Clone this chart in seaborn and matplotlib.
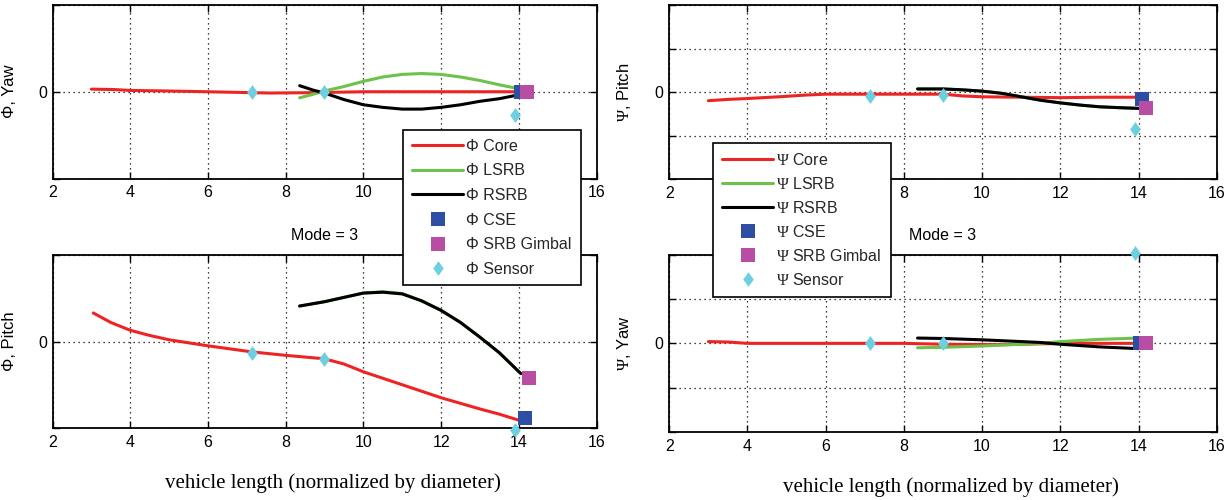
import matplotlib
matplotlib.use("Agg")
import matplotlib.pyplot as plt
import numpy as np
import pandas as pd
import seaborn as sns
from matplotlib.lines import Line2D

# ---------------- data ----------------
# Phi, Yaw
phi_yaw_core_x = [3.0, 3.6, 4.0, 4.8, 6.0, 7.6, 8.8, 10.0, 12.0, 14.0]
phi_yaw_core_y = [0.03, 0.025, 0.015, 0.01, 0.0, -0.015, -0.01, 0.0, 0.0, 0.0]
phi_yaw_lsrb_x = [8.36, 8.7, 9.0, 9.5, 10.0, 10.5, 11.0, 11.5, 12.0, 12.5, 13.0, 13.5, 14.0]
phi_yaw_lsrb_y = [-0.07, -0.03, 0.01, 0.06, 0.12, 0.17, 0.2, 0.21, 0.2, 0.17, 0.13, 0.08, 0.035]
phi_yaw_rsrb_x = [8.36, 8.7, 9.0, 9.5, 10.0, 10.5, 11.0, 11.5, 12.0, 12.5, 13.0, 13.5, 14.0]
phi_yaw_rsrb_y = [0.07, 0.02, -0.015, -0.09, -0.15, -0.18, -0.2, -0.2, -0.18, -0.15, -0.11, -0.08, -0.035]
phi_yaw_cse = (14.05, 0.0)
phi_yaw_gimbal = (14.2, 0.0)
phi_yaw_sensor_x = [7.13, 9.0, 13.9]
phi_yaw_sensor_y = [0.0, 0.0, -0.27]

# Phi, Pitch
phi_pitch_core_x = [3.05, 3.5, 4.0, 4.5, 5.0, 6.0, 7.13, 8.0, 9.0, 9.5, 10.0, 11.0, 12.0, 13.0, 13.5, 14.0]
phi_pitch_core_y = [0.33, 0.22, 0.13, 0.07, 0.02, -0.05, -0.12, -0.16, -0.2, -0.26, -0.35, -0.5, -0.65, -0.78, -0.84, -0.91]
phi_pitch_lsrb_x = [8.36, 9.0, 9.5, 10.0, 10.5, 11.0, 11.5, 12.0, 12.5, 13.0, 13.5, 14.05]
phi_pitch_lsrb_y = [0.41, 0.46, 0.51, 0.56, 0.575, 0.555, 0.47, 0.36, 0.22, 0.05, -0.13, -0.37]
phi_pitch_rsrb_x = [8.36, 9.0, 9.5, 10.0, 10.5, 11.0, 11.5, 12.0, 12.5, 13.0, 13.5, 14.05]
phi_pitch_rsrb_y = [0.41, 0.46, 0.51, 0.56, 0.57, 0.55, 0.47, 0.36, 0.22, 0.05, -0.13, -0.37]
phi_pitch_cse = (14.15, -0.89)
phi_pitch_gimbal = (14.25, -0.42)
phi_pitch_sensor_x = [7.13, 9.0, 13.9]
phi_pitch_sensor_y = [-0.13, -0.2, -1.02]

# Psi, Pitch
psi_pitch_core_x = [3.0, 3.5, 4.0, 4.8, 5.5, 6.0, 8.0, 9.0, 9.5, 10.0, 11.0, 12.0, 13.0, 14.0]
psi_pitch_core_y = [-0.2, -0.17, -0.15, -0.11, -0.07, -0.05, -0.05, -0.05, -0.09, -0.11, -0.12, -0.13, -0.12, -0.12]
psi_pitch_lsrb_x = [8.35, 9.0, 9.5, 10.0, 10.5, 11.0, 11.5, 12.0, 12.5, 13.0, 13.5, 14.1]
psi_pitch_lsrb_y = [0.07, 0.07, 0.05, 0.02, -0.03, -0.11, -0.19, -0.25, -0.3, -0.34, -0.36, -0.38]
psi_pitch_rsrb_x = [8.35, 9.0, 9.5, 10.0, 10.5, 11.0, 11.5, 12.0, 12.5, 13.0, 13.5, 14.1]
psi_pitch_rsrb_y = [0.07, 0.07, 0.05, 0.02, -0.03, -0.11, -0.19, -0.25, -0.3, -0.34, -0.36, -0.38]
psi_pitch_cse = (14.1, -0.15)
psi_pitch_gimbal = (14.2, -0.37)
psi_pitch_sensor_x = [7.13, 9.0, 13.9]
psi_pitch_sensor_y = [-0.09, -0.08, -0.84]

# Psi, Yaw
psi_yaw_core_x = [3.0, 3.5, 4.0, 8.0, 9.0, 10.5, 11.5, 12.5, 14.0]
psi_yaw_core_y = [0.04, 0.03, 0.0, 0.0, -0.02, -0.03, -0.01, 0.0, 0.0]
psi_yaw_lsrb_x = [8.35, 9.0, 10.0, 11.0, 11.5, 12.0, 13.0, 14.0]
psi_yaw_lsrb_y = [-0.1, -0.09, -0.06, -0.02, 0.0, 0.04, 0.09, 0.12]
psi_yaw_rsrb_x = [8.35, 9.0, 10.0, 11.0, 11.5, 12.0, 13.0, 14.0]
psi_yaw_rsrb_y = [0.12, 0.11, 0.08, 0.04, 0.02, -0.02, -0.08, -0.12]
psi_yaw_cse = (14.05, 0.0)
psi_yaw_gimbal = (14.2, 0.0)
psi_yaw_sensor_x = [7.13, 9.0, 13.9]
psi_yaw_sensor_y = [0.0, 0.0, 2.05]

series_names = ["Core", "LSRB", "RSRB"]
x_ticks = [2, 4, 6, 8, 10, 12, 14, 16]

# ---------------- style ----------------
sns.set_theme(style="ticks")
plt.rcParams["font.family"] = ["Liberation Sans", "DejaVu Sans"]
plt.rcParams["axes.linewidth"] = 1.3
# serif Greek letter for the Psi symbol
plt.rcParams["mathtext.fontset"] = "custom"
plt.rcParams["mathtext.rm"] = "Liberation Serif"
plt.rcParams["mathtext.it"] = "Liberation Serif"
plt.rcParams["mathtext.bf"] = "Liberation Serif:bold"

PHI = "\u03a6"
PSI = r"$\mathrm{\Psi}$"

RED = "#ee2424"
GREEN = "#6cc24a"
BLACK = "#000000"
BLUE = "#2e4ea3"
MAGENTA = "#b84ea3"
CYAN = "#6dcfe0"
palette = {"Core": RED, "LSRB": GREEN, "RSRB": BLACK}

diamond = [(0, -1), (0.72, 0), (0, 1), (-0.72, 0), (0, -1)]

W, H = 1229, 500
fig = plt.figure(figsize=(W / 100, H / 100), dpi=100)
fig.patch.set_facecolor("white")


def px_axes(left, top, right, bottom):
    return fig.add_axes([left / W, 1 - bottom / H, (right - left) / W, (bottom - top) / H])


def draw_panel(ax, lines, cse, gimbal, sx, sy, ylim, yticks, ylabel, title=None, xlabel=None):
    frames = []
    for name, (xs, ys) in zip(series_names, lines):
        frames.append(pd.DataFrame({"x": xs, "y": ys, "series": name}))
    df = pd.concat(frames, ignore_index=True)
    sns.lineplot(data=df, x="x", y="y", hue="series", palette=palette,
                 estimator=None, sort=False, units="series", legend=False,
                 linewidth=2.2, ax=ax, zorder=3)
    sns.scatterplot(x=[cse[0]], y=[cse[1]], marker="s", s=95, color=BLUE,
                    edgecolor=BLUE, linewidth=0, ax=ax, zorder=5, clip_on=False)
    sns.scatterplot(x=[gimbal[0]], y=[gimbal[1]], marker="s", s=95, color=MAGENTA,
                    edgecolor=MAGENTA, linewidth=0, ax=ax, zorder=6, clip_on=False)
    sns.scatterplot(x=sx, y=sy, marker=diamond, s=115, color=CYAN,
                    edgecolor=CYAN, linewidth=0, ax=ax, zorder=7, clip_on=False)

    ax.set_xlim(2, 16)
    ax.set_ylim(*ylim)
    ax.set_xticks(x_ticks)
    ax.set_xticklabels([str(t) for t in x_ticks])
    ax.set_yticks(yticks)
    ax.set_yticklabels(["0" if t == 0 else "" for t in yticks])
    ax.grid(True, color="black", linestyle=(0, (1, 3)), linewidth=0.9)
    ax.tick_params(direction="in", top=True, right=True, length=5, width=1,
                   labelsize=11.5, colors="black", pad=5)
    ax.tick_params(axis="y", pad=4)
    for sp in ax.spines.values():
        sp.set_color("black")
        sp.set_linewidth(1.3)
    ax.set_ylabel(ylabel, fontsize=12, color="black")
    ax.yaxis.set_label_coords(-0.066, 0.5)
    ax.set_xlabel("")
    h_px = ax.get_position().height * H
    if title:
        ax.set_title(title, fontsize=11.5, y=1 + 20 / h_px, pad=0, va="center", color="black")
    if xlabel:
        ax.set_xlabel(xlabel, fontsize=15, family=["Liberation Serif", "DejaVu Serif"],
                      color="black")
        ax.xaxis.set_label_coords(0.515, -55 / h_px)
        ax.xaxis.label.set_va("center")
    ax.set_facecolor("white")


ax_tl = px_axes(52.5, 5, 596.5, 178.5)
ax_bl = px_axes(52.5, 255, 596.5, 428)
ax_tr = px_axes(669.3, 5, 1216.7, 179)
ax_br = px_axes(669.3, 255, 1216.7, 431.7)

draw_panel(ax_tl,
           [(phi_yaw_core_x, phi_yaw_core_y), (phi_yaw_lsrb_x, phi_yaw_lsrb_y),
            (phi_yaw_rsrb_x, phi_yaw_rsrb_y)],
           phi_yaw_cse, phi_yaw_gimbal, phi_yaw_sensor_x, phi_yaw_sensor_y,
           (-1, 1), [-1, 0, 1], f"{PHI}, Yaw")
draw_panel(ax_bl,
           [(phi_pitch_core_x, phi_pitch_core_y), (phi_pitch_lsrb_x, phi_pitch_lsrb_y),
            (phi_pitch_rsrb_x, phi_pitch_rsrb_y)],
           phi_pitch_cse, phi_pitch_gimbal, phi_pitch_sensor_x, phi_pitch_sensor_y,
           (-1, 1), [-1, 0, 1], f"{PHI}, Pitch", title="Mode = 3",
           xlabel="vehicle length (normalized by diameter)")
draw_panel(ax_tr,
           [(psi_pitch_core_x, psi_pitch_core_y), (psi_pitch_lsrb_x, psi_pitch_lsrb_y),
            (psi_pitch_rsrb_x, psi_pitch_rsrb_y)],
           psi_pitch_cse, psi_pitch_gimbal, psi_pitch_sensor_x, psi_pitch_sensor_y,
           (-2, 2), [-2, -1, 0, 1, 2], f"{PSI}, Pitch")
draw_panel(ax_br,
           [(psi_yaw_core_x, psi_yaw_core_y), (psi_yaw_lsrb_x, psi_yaw_lsrb_y),
            (psi_yaw_rsrb_x, psi_yaw_rsrb_y)],
           psi_yaw_cse, psi_yaw_gimbal, psi_yaw_sensor_x, psi_yaw_sensor_y,
           (-2, 2), [-2, -1, 0, 1, 2], f"{PSI}, Yaw", title="Mode = 3",
           xlabel="vehicle length (normalized by diameter)")


def legend_handles(sym):
    handles = [
        Line2D([], [], color=RED, lw=2.2),
        Line2D([], [], color=GREEN, lw=2.2),
        Line2D([], [], color=BLACK, lw=2.2),
        Line2D([], [], color=BLUE, marker="s", ms=9.5, mew=0, ls="none"),
        Line2D([], [], color=MAGENTA, marker="s", ms=9.5, mew=0, ls="none"),
        Line2D([], [], color=CYAN, marker=diamond, ms=10.5, mew=0, ls="none"),
    ]
    labels = [f"{sym} Core", f"{sym} LSRB", f"{sym} RSRB", f"{sym} CSE",
              f"{sym} SRB Gimbal", f"{sym} Sensor"]
    return handles, labels


for sym, (lx, ly), spacing in [(PHI, (403.3, 130), 0.6), (PSI, (713.3, 143.3), 0.5)]:
    h, l = legend_handles(sym)
    leg = fig.legend(h, l, loc="upper left", bbox_to_anchor=(lx / W, 1 - ly / H),
                     bbox_transform=fig.transFigure, borderaxespad=0, fontsize=11.5,
                     frameon=True, fancybox=False, framealpha=1, edgecolor="black",
                     handlelength=3.2, handletextpad=0.2, labelspacing=spacing,
                     borderpad=0.55)
    leg.get_frame().set_linewidth(1.2)

fig.savefig("out.png", dpi=100, facecolor="white")
